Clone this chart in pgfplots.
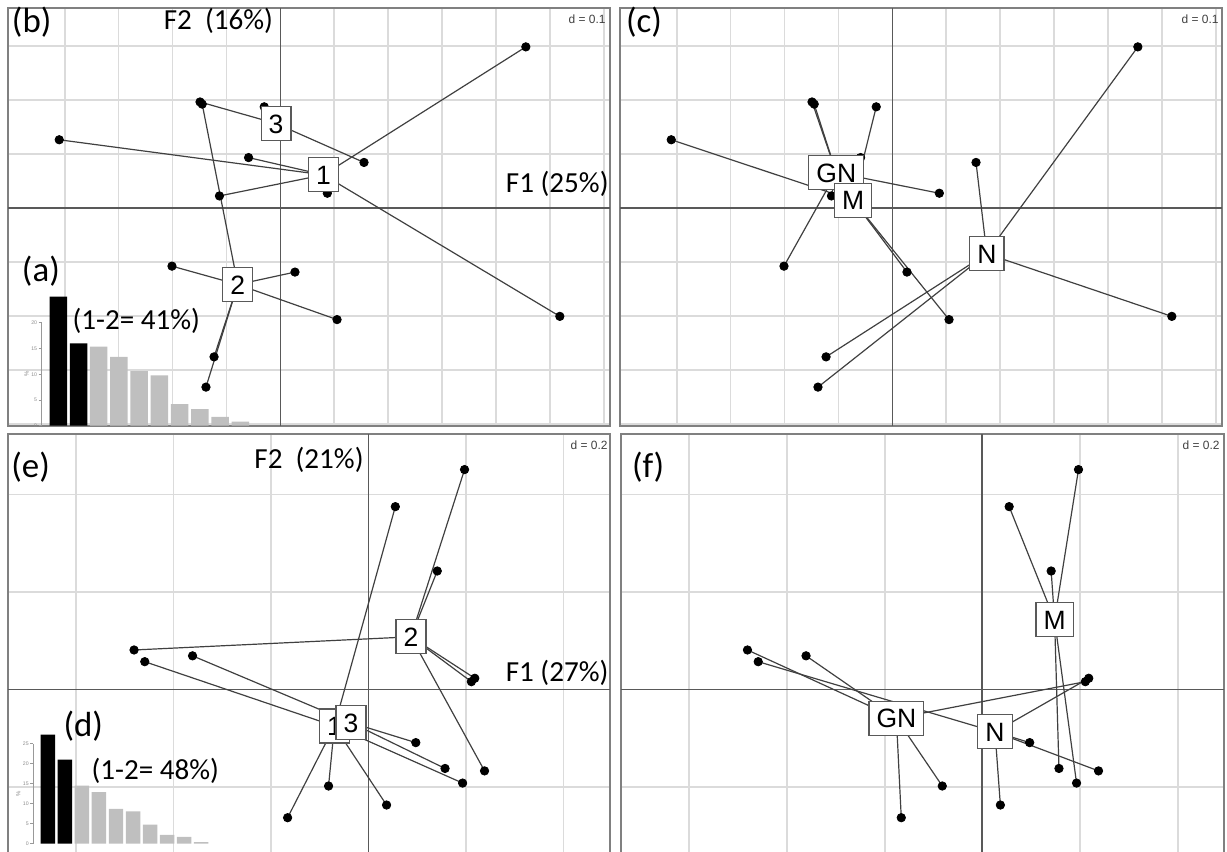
\documentclass[border=0pt]{standalone}
\usepackage{fontspec}
\setmainfont{Carlito}
\newfontfamily\arialf{Liberation Sans}
\usepackage{pgfplots}
\usepackage{pgfplotstable}
\pgfplotsset{compat=1.18}

% first data set (panels a-c): point, its centre in (b), its centre in (c)
\pgfplotstableread{
x      y      bx     by     cx     cy
0.455  0.299  0.080  0.062  0.175  -0.084
-0.410 0.127  0.080  0.062  -0.073 0.015
-0.059 0.094  0.080  0.062  -0.073 0.015
-0.113 0.023  0.080  0.062  -0.104 0.066
0.087  0.028  0.080  0.062  -0.104 0.066
0.518  -0.200 0.080  0.062  0.175  -0.084
0.155  0.085  -0.008 0.157  0.175  -0.084
-0.149 0.197  -0.008 0.157  -0.104 0.066
-0.030 0.188  -0.008 0.157  -0.073 0.015
-0.145 0.193  -0.079 -0.141 -0.104 0.066
-0.201 -0.107 -0.079 -0.141 -0.104 0.066
0.027  -0.118 -0.079 -0.141 -0.073 0.015
0.105  -0.206 -0.079 -0.141 -0.073 0.015
-0.123 -0.275 -0.079 -0.141 0.175  -0.084
-0.138 -0.331 -0.079 -0.141 0.175  -0.084
}\ptsone
\pgfplotstableread{
x      y      lab
0.080  0.062  1
-0.079 -0.141 2
-0.008 0.157  3
}\cenb
\pgfplotstableread{
x      y      lab
-0.104 0.066  GN
-0.073 0.015  M
0.175  -0.084 N
}\cenc

% second data set (panels d-f)
\pgfplotstableread{
x      y      ex     ey     fx     fy
0.197  0.451  0.087  0.108  0.148  0.143
0.055  0.375  -0.070 -0.075 0.148  0.143
0.141  0.243  0.087  0.108  0.148  0.143
-0.481 0.081  0.087  0.108  -0.176 -0.059
-0.459 0.057  -0.070 -0.075 0.026  -0.087
-0.361 0.069  -0.036 -0.068 -0.176 -0.059
0.218  0.023  0.087  0.108  0.026  -0.087
0.211  0.016  0.087  0.108  -0.176 -0.059
0.097  -0.109 -0.036 -0.068 0.026  -0.087
0.157  -0.162 -0.036 -0.068 0.148  0.143
0.193  -0.192 -0.070 -0.075 0.148  0.143
0.238  -0.167 0.087  0.108  0.026  -0.087
-0.082 -0.198 -0.070 -0.075 -0.176 -0.059
0.037  -0.237 -0.070 -0.075 0.026  -0.087
-0.166 -0.263 -0.070 -0.075 -0.176 -0.059
}\ptstwo
\pgfplotstableread{
x      y      lab
0.087  0.108  2
-0.070 -0.075 1
-0.036 -0.068 3
}\cene
\pgfplotstableread{
x      y      lab
-0.176 -0.059 GN
0.148  0.143  M
0.026  -0.087 N
}\cenf

% eigenvalues, % of inertia
\pgfplotstableread{
k  a     d
1  25.1  27.3
2  16.0  21.0
3  15.4  14.5
4  13.4  12.9
5  10.6  8.7
6  9.8   8.1
7  4.2   4.8
8  3.2   2.2
9  1.7   1.7
10 0.8   0.4
}\eig

\pgfplotsset{
  panel/.style={
    scale only axis, anchor=north west,
    axis line style={draw=black!50, line width=0.9bp},
    xticklabels={}, yticklabels={},
    major tick length=0pt,
    grid=major, grid style={draw=black!14, line width=0.9bp},
    extra x ticks={0}, extra y ticks={0},
    extra x tick labels={}, extra y tick labels={},
    extra tick style={major grid style={draw=black!65, line width=0.9bp}},
  },
  star/.style={draw=black!75, line width=0.6bp},
  dots/.style={only marks, mark=*, mark size=2.1bp, mark options={fill=black, draw=black}},
  boxes/.style={draw=none, mark=none, nodes near coords, point meta=explicit symbolic,
    nodes near coords style={anchor=center, draw=black!65, fill=white, line width=0.6bp,
      text=black, font=\arialf\fontsize{13.3}{13.3}\selectfont, inner xsep=3.8bp, inner ysep=0pt,
      text height=9.6bp, text depth=0pt, minimum height=17bp}},
  scree/.style={
    scale only axis, anchor=south west, clip=false,
    axis x line=none, axis y line=left,
    axis line style={-, draw=black!40, line width=0.4bp},
    ymin=0, xtick=\empty,
    tick style={draw=black!40, line width=0.4bp}, major tick length=1.5bp, tick align=outside,
    /pgf/number format/assume math mode=true,
    yticklabel style={font=\arialf\fontsize{2.6}{3}\selectfont, text=black!45, inner sep=0.6bp},
    ylabel={\%}, ylabel style={font=\arialf\fontsize{3}{3}\selectfont, text=black!45, inner sep=0.5bp},
  },
}
\newcommand\lbl{\fontsize{17.5}{17.5}\selectfont}
\newcommand\txt{\fontsize{14.6}{14.6}\selectfont}
\newcommand\dtxt{\arialf\fontsize{6}{6}\selectfont}

\begin{document}
\begin{tikzpicture}
\useasboundingbox (0,0) rectangle (613.5bp,426bp);
\clip (0,0) rectangle (613.5bp,426bp);

% (b)
\begin{axis}[panel, at={(4bp,422bp)}, width=301bp, height=209bp,
  xmin=-0.505, xmax=0.611, ymin=-0.403, ymax=0.371,
  xtick={-0.4,-0.3,-0.2,-0.1,0.1,0.2,0.3,0.4,0.5,0.6},
  ytick={-0.4,-0.3,-0.2,-0.1,0.1,0.2,0.3}]
\addplot[star, quiver={u=(\thisrow{bx})-(\thisrow{x}), v=(\thisrow{by})-(\thisrow{y})}] table[x=x, y=y] {\ptsone};
\addplot[dots] table[x=x, y=y] {\ptsone};
\addplot[boxes] table[x=x, y=y, meta=lab] {\cenb};
\end{axis}

% (c)
\begin{axis}[panel, at={(310bp,422bp)}, width=301bp, height=209bp,
  xmin=-0.505, xmax=0.611, ymin=-0.403, ymax=0.371,
  xtick={-0.4,-0.3,-0.2,-0.1,0.1,0.2,0.3,0.4,0.5,0.6},
  ytick={-0.4,-0.3,-0.2,-0.1,0.1,0.2,0.3}]
\addplot[star, quiver={u=(\thisrow{cx})-(\thisrow{x}), v=(\thisrow{cy})-(\thisrow{y})}] table[x=x, y=y] {\ptsone};
\addplot[dots] table[x=x, y=y] {\ptsone};
\addplot[boxes] table[x=x, y=y, meta=lab] {\cenc};
\end{axis}

% (e)
\begin{axis}[panel, at={(3.9bp,209bp)}, width=301bp, height=215.5bp,
  xmin=-0.740, xmax=0.495, ymin=-0.36, ymax=0.524,
  xtick={-0.6,-0.4,-0.2,0.2,0.4}, ytick={-0.2,0.2,0.4}]
\addplot[star, quiver={u=(\thisrow{ex})-(\thisrow{x}), v=(\thisrow{ey})-(\thisrow{y})}] table[x=x, y=y] {\ptstwo};
\addplot[dots] table[x=x, y=y] {\ptstwo};
\addplot[boxes] table[x=x, y=y, meta=lab] {\cene};
\end{axis}

% (f)
\begin{axis}[panel, at={(310.5bp,209bp)}, width=301.5bp, height=215.5bp,
  xmin=-0.740, xmax=0.495, ymin=-0.36, ymax=0.524,
  xtick={-0.6,-0.4,-0.2,0.2,0.4}, ytick={-0.2,0.2,0.4}]
\addplot[star, quiver={u=(\thisrow{fx})-(\thisrow{x}), v=(\thisrow{fy})-(\thisrow{y})}] table[x=x, y=y] {\ptstwo};
\addplot[dots] table[x=x, y=y] {\ptstwo};
\addplot[boxes] table[x=x, y=y, meta=lab] {\cenf};
\end{axis}

% (a) scree plot
\begin{axis}[scree, at={(20.85bp,213.15bp)}, width=104.35bp, height=51.4bp,
  xmin=0.18, xmax=10.5, ymax=20, ytick={0,5,10,15,20}]
\addplot[ybar, bar width=0.865, bar shift=0pt, fill=black, draw=none,
  restrict x to domain=1:2] table[x=k, y=a] {\eig};
\addplot[ybar, bar width=0.865, bar shift=0pt, fill=black!25, draw=none,
  restrict x to domain=3:10] table[x=k, y=a] {\eig};
\end{axis}

% (d) scree plot
\begin{axis}[scree, at={(16.65bp,4.15bp)}, width=88.2bp, height=50bp,
  xmin=0.146, xmax=10.5, ymax=25, ytick={0,5,10,15,20,25}]
\addplot[ybar, bar width=0.85, bar shift=0pt, fill=black, draw=none,
  restrict x to domain=1:2] table[x=k, y=d] {\eig};
\addplot[ybar, bar width=0.85, bar shift=0pt, fill=black!25, draw=none,
  restrict x to domain=3:10] table[x=k, y=d] {\eig};
\end{axis}

% texts
\begin{scope}[every node/.style={inner sep=0pt}]
\node[anchor=base west, font=\lbl] at (5.8bp,409.6bp) {(b)};
\node[anchor=base east, font=\txt] at (136.7bp,411bp) {F2\hspace{0.45em}(16\%)};
\node[anchor=base east, font=\txt] at (304.5bp,329.7bp) {F1 (25\%)};
\node[anchor=base east, font=\dtxt, text=black!75] at (303bp,414bp) {d = 0.1};
\node[anchor=base west, font=\lbl] at (10.8bp,285.4bp) {(a)};
\node[anchor=base west, font=\txt] at (36.1bp,261bp) {(1-2= 41\%)};

\node[anchor=base west, font=\lbl] at (312.8bp,409.6bp) {(c)};
\node[anchor=base east, font=\dtxt, text=black!75] at (609.5bp,414bp) {d = 0.1};

\node[anchor=base west, font=\lbl] at (5.5bp,187.4bp) {(e)};
\node[anchor=base east, font=\txt] at (182bp,191.8bp) {F2\hspace{0.45em}(21\%)};
\node[anchor=base east, font=\txt] at (304.4bp,85.2bp) {F1 (27\%)};
\node[anchor=base east, font=\dtxt, text=black!75] at (304bp,201bp) {d = 0.2};
\node[anchor=base west, font=\lbl] at (31.6bp,57.5bp) {(d)};
\node[anchor=base west, font=\txt] at (45.6bp,36.3bp) {(1-2= 48\%)};

\node[anchor=base west, font=\lbl] at (315.8bp,187.4bp) {(f)};
\node[anchor=base east, font=\dtxt, text=black!75] at (610bp,201bp) {d = 0.2};
\end{scope}
\end{tikzpicture}
\end{document}
